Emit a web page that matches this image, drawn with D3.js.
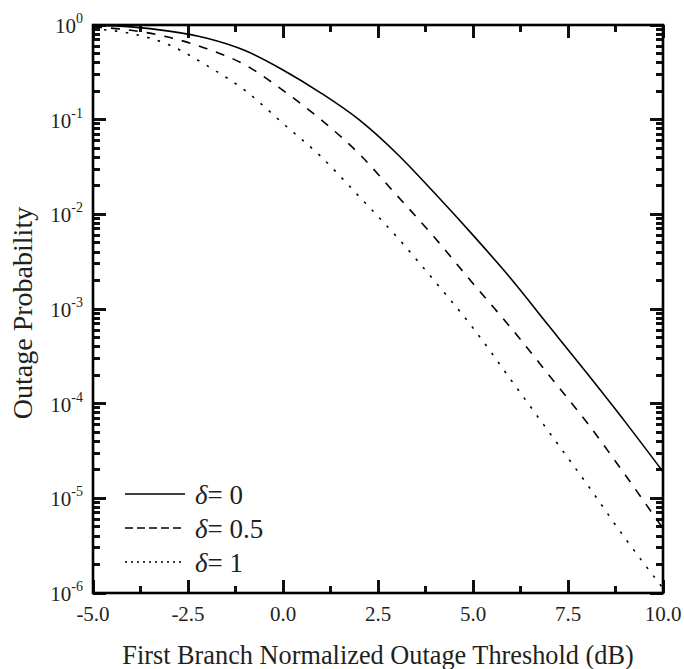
<!DOCTYPE html>
<html><head><meta charset="utf-8">
<script src="https://cdn.jsdelivr.net/npm/d3@7"></script>
<style>
html,body{margin:0;padding:0;background:#fff;}
text{font-family:"Liberation Serif","Times New Roman",serif;fill:#231f20;}
</style></head>
<body><svg id="chart" width="684" height="669"></svg>
<script>
// ---- data ----
const thresholdDb = [-5,-4,-3,-2,-1,0,1,2,3,4,5,6,7,8,9,10];
const delta0   = [0.989,0.955,0.861,0.724,0.537,0.335,0.191,0.1,0.0437,0.0166,6.03e-3,2.09e-3,6.61e-4,2.09e-4,6.46e-5,1.91e-5];
const delta05  = [0.955,0.881,0.741,0.562,0.380,0.204,0.1,0.0437,0.0158,5.62e-3,1.86e-3,6.31e-4,2.0e-4,6.31e-5,1.78e-5,4.79e-6];
const delta1   = [0.912,0.813,0.617,0.372,0.204,0.0912,0.0407,0.0155,5.75e-3,1.95e-3,6.31e-4,1.78e-4,5.01e-5,1.41e-5,3.80e-6,1.12e-6];
const seriesLabels = ["0","0.5","1"];
const xTickValues = [-5,-2.5,0,2.5,5,7.5,10];
const xTickLabels = ["-5.0","-2.5","0.0","2.5","5.0","7.5","10.0"];
const xMinorTicks = [-3.75,-1.25,1.25,3.75,6.25,8.75];
const yTickExponents = [0,-1,-2,-3,-4,-5,-6];
const xTitle = "First Branch Normalized Outage Threshold (dB)";
const yTitle = "Outage Probability";

const svg = d3.select("#chart");
const L = 93, R = 663, T = 25, B = 593;
const ink = "#000000";
const x = d3.scaleLinear().domain([-5,10]).range([L,R]);
const y = d3.scaleLog().domain([1e-6,1]).range([B,T]);

const yMajor = yTickExponents.map(e => Math.pow(10,e));
const yMinor = [];
for (let e=-6; e<0; e++) for (let m=2; m<=9; m++) yMinor.push(m*Math.pow(10,e));

// ticks, inward on all four sides
const tickColor = "#111111";
function xTicks(vals, len){
  svg.selectAll(null).data(vals).enter().append("line")
    .attr("x1",d=>x(d)).attr("x2",d=>x(d)).attr("y1",B).attr("y2",B-len)
    .attr("stroke",tickColor).attr("stroke-width",3).attr("shape-rendering","crispEdges");
  svg.selectAll(null).data(vals).enter().append("line")
    .attr("x1",d=>x(d)).attr("x2",d=>x(d)).attr("y1",T).attr("y2",T+len)
    .attr("stroke",tickColor).attr("stroke-width",3).attr("shape-rendering","crispEdges");
}
function yTicks(vals, len){
  svg.selectAll(null).data(vals).enter().append("line")
    .attr("x1",L).attr("x2",L+len).attr("y1",d=>y(d)).attr("y2",d=>y(d))
    .attr("stroke",tickColor).attr("stroke-width",3).attr("shape-rendering","crispEdges");
  svg.selectAll(null).data(vals).enter().append("line")
    .attr("x1",R-len).attr("x2",R).attr("y1",d=>y(d)).attr("y2",d=>y(d))
    .attr("stroke",tickColor).attr("stroke-width",3).attr("shape-rendering","crispEdges");
}
xTicks(xMinorTicks,7); xTicks(xTickValues,13);
yTicks(yMinor,7); yTicks(yMajor,13);

// frame
svg.append("rect").attr("x",L).attr("y",T).attr("width",R-L).attr("height",B-T)
  .attr("fill","none").attr("stroke",ink).attr("stroke-width",2.6);

// x tick labels
svg.selectAll(null).data(xTickValues).enter().append("text")
  .attr("x",d=>x(d)).attr("y",621).attr("text-anchor","middle")
  .style("font-size","21px").text((d,i)=>xTickLabels[i]);
// y tick labels
svg.selectAll(null).data(yMajor).enter().append("text")
  .attr("x",L-10).attr("y",d=>y(d)+8).attr("text-anchor","end")
  .style("font-size","21px")
  .each(function(d,i){
    const t = d3.select(this);
    t.append("tspan").text("10");
    t.append("tspan").style("font-size","14px").attr("dy",-10).text(String(yTickExponents[i]));
  });

// curves
const dashes = ["none","9,9","2.5,8.5"];
const legendDashes = ["none","8,4","2,4"];
const allSeries = [delta0, delta05, delta1];
const line = d3.line().x((d,i)=>x(thresholdDb[i])).y(d=>y(d)).curve(d3.curveMonotoneX);
allSeries.forEach((s,k)=>{
  svg.append("path").datum(s).attr("d",line).attr("fill","none")
    .attr("stroke",ink).attr("stroke-width",1.6)
    .attr("stroke-dasharray",dashes[k]);
});

// legend
const legY = [494,528,562];
seriesLabels.forEach((lab,k)=>{
  svg.append("line").attr("x1",125).attr("x2",185).attr("y1",legY[k]).attr("y2",legY[k])
    .attr("stroke",ink).attr("stroke-width",1.6).attr("stroke-dasharray",legendDashes[k]);
  const t = svg.append("text").attr("x",195).attr("y",legY[k]+10).style("font-size","27px");
  t.append("tspan").style("font-style","italic").text("δ");
  t.append("tspan").text("= " + lab);
});

// titles
svg.append("text").attr("x",(L+R)/2).attr("y",664).attr("text-anchor","middle")
  .style("font-size","26.3px").text(xTitle);
svg.append("text").attr("transform",`translate(32,${(T+B)/2 + 4}) rotate(-90)`)
  .attr("text-anchor","middle").style("font-size","28px").text(yTitle);
</script></body></html>
